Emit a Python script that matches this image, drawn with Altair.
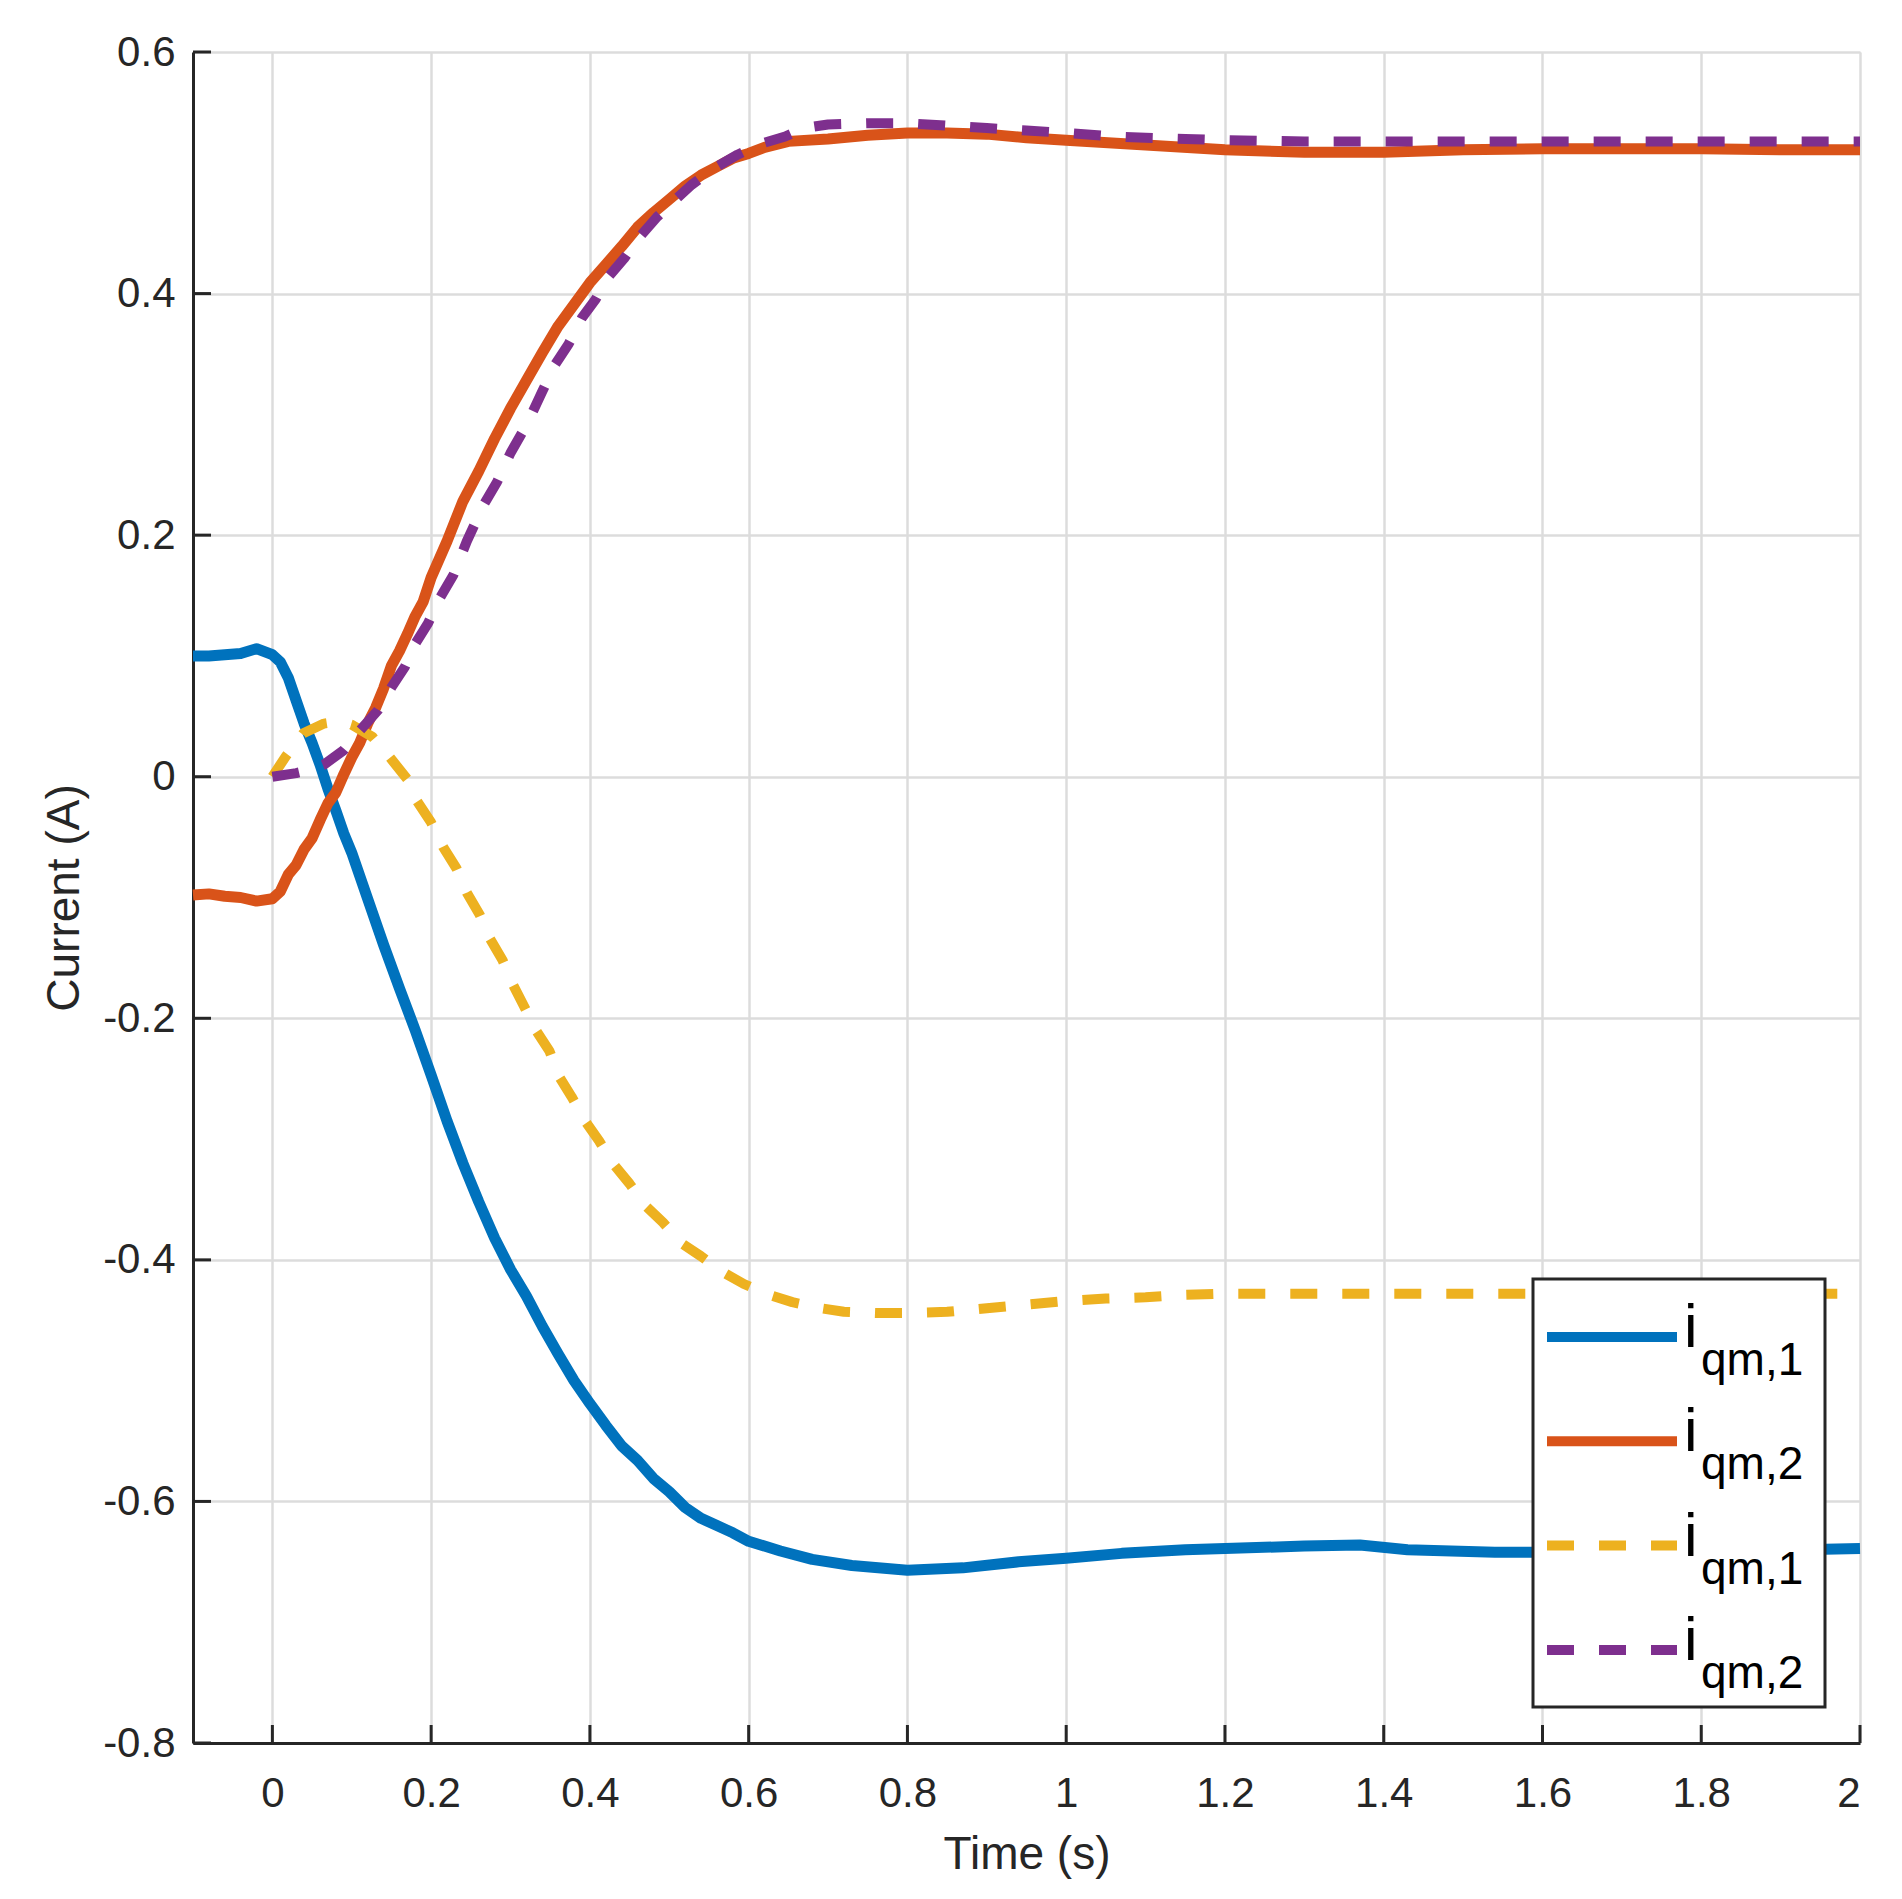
import altair as alt
import pandas as pd

# ---------------- data ----------------
blue_t = [-0.10, -0.08, -0.06, -0.04, -0.02, 0.00, 0.01, 0.02, 0.03, 0.04, 0.05, 0.06, 0.07, 0.08, 0.09,
          0.10, 0.12, 0.14, 0.16, 0.18, 0.20, 0.22, 0.24, 0.26, 0.28, 0.30, 0.32, 0.34, 0.36, 0.38,
          0.40, 0.42, 0.44, 0.46, 0.48, 0.50, 0.52, 0.54, 0.56, 0.58, 0.60, 0.64, 0.68, 0.73, 0.80,
          0.87, 0.94, 1.00, 1.07, 1.15, 1.20, 1.30, 1.37, 1.43, 1.54, 1.70, 1.85, 2.00]
blue_v = [0.100, 0.100, 0.101, 0.102, 0.106, 0.101, 0.095, 0.082, 0.063, 0.044, 0.028, 0.010, -0.010, -0.028, -0.047,
          -0.063, -0.101, -0.139, -0.175, -0.210, -0.247, -0.285, -0.320, -0.352, -0.382, -0.408, -0.430, -0.455, -0.478, -0.500,
          -0.519, -0.537, -0.554, -0.566, -0.581, -0.592, -0.605, -0.614, -0.620, -0.626, -0.633, -0.641, -0.648, -0.653, -0.657,
          -0.655, -0.650, -0.647, -0.643, -0.640, -0.639, -0.637, -0.636, -0.640, -0.642, -0.642, -0.641, -0.639]

orange_t = [-0.10, -0.08, -0.06, -0.04, -0.02, 0.00, 0.01, 0.02, 0.03, 0.04, 0.05, 0.06, 0.07, 0.08, 0.09,
            0.10, 0.11, 0.12, 0.13, 0.14, 0.15, 0.16, 0.17, 0.18, 0.19, 0.20, 0.22, 0.24, 0.26, 0.28,
            0.30, 0.32, 0.34, 0.36, 0.38, 0.40, 0.42, 0.44, 0.46, 0.48, 0.50, 0.52, 0.54, 0.56, 0.58,
            0.60, 0.62, 0.65, 0.70, 0.75, 0.80, 0.85, 0.90, 0.95, 1.00, 1.10, 1.20, 1.30, 1.40, 1.50,
            1.60, 1.70, 1.80, 1.90, 2.00]
orange_v = [-0.098, -0.097, -0.099, -0.100, -0.103, -0.101, -0.095, -0.081, -0.073, -0.060, -0.051, -0.036, -0.022, -0.013, 0.002,
            0.016, 0.028, 0.044, 0.057, 0.073, 0.092, 0.104, 0.118, 0.133, 0.145, 0.165, 0.195, 0.228, 0.253, 0.280,
            0.305, 0.328, 0.351, 0.373, 0.391, 0.409, 0.424, 0.439, 0.455, 0.467, 0.478, 0.489, 0.498, 0.505, 0.512,
            0.516, 0.521, 0.526, 0.528, 0.531, 0.533, 0.533, 0.532, 0.529, 0.527, 0.523, 0.519, 0.517, 0.517, 0.519,
            0.520, 0.520, 0.520, 0.519, 0.519]

yellow_t = [0.000, 0.017, 0.039, 0.065, 0.085, 0.100, 0.126, 0.148, 0.170, 0.182, 0.200, 0.215, 0.232, 0.245,
            0.261, 0.274, 0.290, 0.303, 0.317, 0.332, 0.349, 0.361, 0.377, 0.395, 0.412, 0.430, 0.450, 0.468,
            0.492, 0.515, 0.540, 0.567, 0.594, 0.626, 0.655, 0.690, 0.720, 0.760, 0.800, 0.850, 0.900, 0.950,
            1.000, 1.050, 1.100, 1.150, 1.200, 1.300, 2.000]
yellow_v = [0.000, 0.017, 0.036, 0.044, 0.046, 0.043, 0.033, 0.016, -0.002, -0.020, -0.038, -0.058, -0.076, -0.096,
            -0.114, -0.134, -0.152, -0.172, -0.190, -0.210, -0.227, -0.248, -0.265, -0.286, -0.302, -0.321, -0.337, -0.354,
            -0.369, -0.386, -0.397, -0.410, -0.420, -0.429, -0.435, -0.440, -0.443, -0.444, -0.444, -0.443, -0.440, -0.437,
            -0.434, -0.432, -0.431, -0.429, -0.428, -0.428, -0.428]

purple_t = [0.000, 0.030, 0.050, 0.065, 0.090, 0.110, 0.133, 0.150, 0.167, 0.180, 0.196, 0.211, 0.228, 0.245,
            0.266, 0.283, 0.300, 0.320, 0.340, 0.356, 0.373, 0.390, 0.407, 0.421, 0.443, 0.460, 0.484, 0.503,
            0.528, 0.557, 0.586, 0.615, 0.646, 0.670, 0.700, 0.750, 0.800, 0.850, 0.900, 0.950, 1.000, 1.060,
            1.100, 1.150, 1.200, 1.300, 2.000]
purple_v = [0.000, 0.003, 0.006, 0.010, 0.022, 0.038, 0.055, 0.074, 0.091, 0.110, 0.127, 0.148, 0.167, 0.195,
            0.225, 0.244, 0.268, 0.291, 0.319, 0.341, 0.358, 0.380, 0.395, 0.412, 0.429, 0.445, 0.463, 0.475,
            0.490, 0.504, 0.515, 0.524, 0.530, 0.537, 0.540, 0.541, 0.541, 0.539, 0.537, 0.535, 0.533, 0.530,
            0.529, 0.528, 0.527, 0.526, 0.526]

xtick_vals = [0, 0.2, 0.4, 0.6, 0.8, 1.0, 1.2, 1.4, 1.6, 1.8, 2.0]
ytick_vals = [-0.8, -0.6, -0.4, -0.2, 0, 0.2, 0.4, 0.6]

legend_main = ["i", "i", "i", "i"]
legend_sub = ["qm,1", "qm,2", "qm,1", "qm,2"]
legend_colors = ["#0072BD", "#D95319", "#EDB120", "#7E2F8E"]
legend_dashed = [False, False, True, True]

# ---------------- layout ----------------
W, H = 1667, 1691
AX = "#262626"
FONT = "Liberation Sans"
DASH = [27, 25]
LW_SOLID = 11
LW_DASH = 10

x_scale = alt.Scale(domain=[-0.1, 2], nice=False, zero=False)
y_scale = alt.Scale(domain=[-0.8, 0.6], nice=False, zero=False)
lab = "replace(format(datum.value, '.1~f'), '\u2212', '-')"

x_axis = alt.Axis(values=xtick_vals, grid=True, ticks=False, domain=True, domainColor=AX, domainWidth=3,
                  gridColor="#dcdcdc", gridWidth=2.5, labelExpr=lab, labelFont=FONT, labelFontSize=42,
                  labelColor=AX, labelPadding=30, title="Time (s)", titleFont=FONT, titleFontSize=46,
                  titleFontWeight="normal", titleColor=AX, titleBaseline="alphabetic", titleX=W / 2,
                  titleY=125, titleAlign="center")
y_axis = alt.Axis(values=ytick_vals, grid=True, ticks=False, domain=True, domainColor=AX, domainWidth=3,
                  gridColor="#dcdcdc", gridWidth=2.5, labelExpr=lab, labelFont=FONT, labelFontSize=42,
                  labelColor=AX, labelPadding=18, title="Current (A)", titleFont=FONT, titleFontSize=46,
                  titleFontWeight="normal", titleColor=AX, titleBaseline="alphabetic", titleAngle=270,
                  titleX=-115, titleY=H / 2, titleAlign="center")

X = alt.X("t:Q", scale=x_scale, axis=x_axis)
Y = alt.Y("v:Q", scale=y_scale, axis=y_axis)


def line(t, v, color, dashed):
    df = pd.DataFrame({"t": t, "v": v})
    kw = dict(strokeWidth=LW_DASH if dashed else LW_SOLID, color=color, strokeJoin="round", strokeCap="butt")
    if dashed:
        kw["strokeDash"] = DASH
    return alt.Chart(df).mark_line(**kw).encode(x=X, y=Y, order="t:Q")


layers = [
    line(blue_t, blue_v, legend_colors[0], False),
    line(orange_t, orange_v, legend_colors[1], False),
    line(yellow_t, yellow_v, legend_colors[2], True),
    line(purple_t, purple_v, legend_colors[3], True),
]

# inward ticks
ytk = alt.Chart(pd.DataFrame({"v": ytick_vals})).mark_rule(color=AX, strokeWidth=3).encode(
    y=Y, x=alt.value(0), x2=alt.value(18))
xtk = alt.Chart(pd.DataFrame({"t": xtick_vals})).mark_rule(color=AX, strokeWidth=3).encode(
    x=X, y=alt.value(H), y2=alt.value(H - 18))
layers += [ytk, xtk]

# legend
one = pd.DataFrame({"a": [0]})
layers.append(alt.Chart(one).mark_rect(fill="white", stroke=AX, strokeWidth=3).encode(
    x=alt.value(1340), x2=alt.value(1632), y=alt.value(1227), y2=alt.value(1655)))
STEP = 104.3
for k in range(4):
    kw = dict(color=legend_colors[k], strokeWidth=10, strokeCap="butt")
    if legend_dashed[k]:
        kw["strokeDash"] = DASH
    ly = 1285 + k * STEP
    layers.append(alt.Chart(one).mark_rule(**kw).encode(
        x=alt.value(1354), x2=alt.value(1484), y=alt.value(ly)))
    layers.append(alt.Chart(one).mark_text(text=legend_main[k], font=FONT, fontSize=61, color="black",
                                           align="left", baseline="alphabetic").encode(
        x=alt.value(1491), y=alt.value(1295 + k * STEP)))
    layers.append(alt.Chart(one).mark_text(text=legend_sub[k], font=FONT, fontSize=46, color="black",
                                           align="left", baseline="alphabetic").encode(
        x=alt.value(1508), y=alt.value(1323 + k * STEP)))

chart = alt.layer(*layers).properties(
    width=W, height=H,
    padding={"left": 185, "top": 44, "right": 34, "bottom": 140},
    autosize=alt.AutoSizeParams(type="none"),
).configure_view(stroke=None).configure(background="white")

chart.save("out.html", embed_options={"renderer": "svg", "actions": False})
